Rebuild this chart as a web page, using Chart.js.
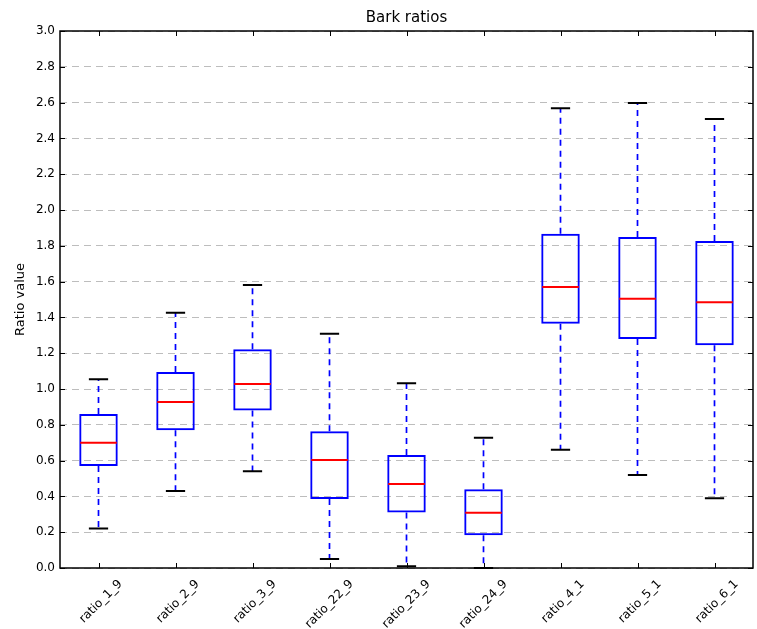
<!DOCTYPE html>
<html>
<head>
<meta charset="utf-8">
<script src="https://cdn.jsdelivr.net/npm/chart.js@4"></script>
<style>
  body { margin: 0; background: #fff; }
</style>
</head>
<body>
<canvas id="chart" width="757" height="629"></canvas>
<script>
// box plot values
const categories = ["ratio_1_9", "ratio_2_9", "ratio_3_9", "ratio_22_9", "ratio_23_9", "ratio_24_9", "ratio_4_1", "ratio_5_1", "ratio_6_1"];
const whiskerLow  = [0.22, 0.43, 0.54, 0.05, 0.01, 0.00, 0.66, 0.52, 0.39];
const q1          = [0.57, 0.77, 0.88, 0.385, 0.31, 0.183, 1.365, 1.28, 1.245];
const median      = [0.70, 0.927, 1.028, 0.603, 0.469, 0.309, 1.57, 1.504, 1.484];
const q3          = [0.86, 1.095, 1.222, 0.764, 0.631, 0.44, 1.868, 1.849, 1.827];
const whiskerHigh = [1.054, 1.426, 1.581, 1.309, 1.032, 0.728, 2.568, 2.598, 2.508];
const yTicks = [0, 0.2, 0.4, 0.6, 0.8, 1.0, 1.2, 1.4, 1.6, 1.8, 2.0, 2.2, 2.4, 2.6, 2.8, 3.0];

const FONT = "'DejaVu Sans', sans-serif";

// whiskers, caps and medians drawn on top of the floating bars
const boxParts = {
    id: "boxParts",
    afterDatasetsDraw(chart) {
        const ctx = chart.ctx;
        const y = chart.scales.y;
        const bars = chart.getDatasetMeta(0).data;
        ctx.save();
        bars.forEach(function (bar, i) {
            const cx = bar.x;
            const half = bar.width / 2;
            const cap = half / 2;

            // whiskers
            ctx.strokeStyle = "#0000ff";
            ctx.lineWidth = 1.7;
            ctx.setLineDash([6, 5]);
            ctx.beginPath();
            ctx.moveTo(cx, y.getPixelForValue(q3[i]));
            ctx.lineTo(cx, y.getPixelForValue(whiskerHigh[i]));
            ctx.moveTo(cx, y.getPixelForValue(q1[i]));
            ctx.lineTo(cx, y.getPixelForValue(whiskerLow[i]));
            ctx.stroke();
            ctx.setLineDash([]);

            // caps
            ctx.strokeStyle = "#000";
            ctx.lineWidth = 2;
            ctx.beginPath();
            [whiskerHigh[i], whiskerLow[i]].forEach(function (v) {
                const py = y.getPixelForValue(v);
                ctx.moveTo(cx - cap, py);
                ctx.lineTo(cx + cap, py);
            });
            ctx.stroke();

            // median
            ctx.strokeStyle = "#ff0000";
            ctx.lineWidth = 2;
            ctx.beginPath();
            const my = y.getPixelForValue(median[i]);
            ctx.moveTo(cx - half + 1, my);
            ctx.lineTo(cx + half - 1, my);
            ctx.stroke();
        });
        ctx.restore();
    }
};

// black frame with inward ticks on every side
const frame = {
    id: "frame",
    afterDraw(chart) {
        const ctx = chart.ctx;
        const a = chart.chartArea;
        const x = chart.scales.x;
        const y = chart.scales.y;
        const len = 5;
        ctx.save();
        ctx.strokeStyle = "#000";
        ctx.lineWidth = 1;
        ctx.beginPath();
        x.ticks.forEach(function (t, i) {
            const px = Math.round(x.getPixelForTick(i)) + 0.5;
            ctx.moveTo(px, a.bottom); ctx.lineTo(px, a.bottom - len);
            ctx.moveTo(px, a.top); ctx.lineTo(px, a.top + len);
        });
        y.ticks.forEach(function (t, i) {
            const py = Math.round(y.getPixelForTick(i)) + 0.5;
            ctx.moveTo(a.left, py); ctx.lineTo(a.left + len, py);
            ctx.moveTo(a.right, py); ctx.lineTo(a.right - len, py);
        });
        ctx.stroke();
        ctx.lineWidth = 1.5;
        ctx.strokeRect(a.left, a.top, a.right - a.left, a.bottom - a.top);
        ctx.restore();
    }
};

const chart = new Chart(document.getElementById("chart").getContext("2d"), {
    type: "bar",
    data: {
        labels: categories,
        datasets: [{
            data: categories.map(function (c, i) { return [q1[i], q3[i]]; }),
            backgroundColor: "rgba(0,0,0,0)",
            borderColor: "#0000ff",
            borderWidth: 2,
            borderSkipped: false,
            barPercentage: 0.5,
            categoryPercentage: 1.0
        }]
    },
    options: {
        responsive: false,
        animation: false,
        events: [],
        layout: { padding: { left: 0, right: 4, top: 0, bottom: 0 } },
        plugins: {
            legend: { display: false },
            tooltip: { enabled: false },
            title: {
                display: true,
                fullSize: false,
                text: "Bark ratios",
                color: "#000",
                font: { family: FONT, size: 15, weight: "normal" },
                padding: { top: 9, bottom: 4 }
            }
        },
        scales: {
            x: {
                grid: { display: false, drawTicks: false },
                border: { display: false },
                ticks: {
                    color: "#000",
                    font: { family: FONT, size: 12 },
                    minRotation: 45,
                    maxRotation: 45,
                    padding: 9,
                    labelOffset: 22
                },
                afterFit: function (scale) { scale.height = 61; }
            },
            y: {
                min: 0,
                max: 3,
                afterBuildTicks: function (scale) {
                    scale.ticks = yTicks.map(function (v) { return { value: v }; });
                },
                grid: { color: "#bdbdbd", lineWidth: 1, drawTicks: false },
                border: { display: false, dash: [7, 5] },
                ticks: {
                    color: "#000",
                    font: { family: FONT, size: 12 },
                    padding: 5,
                    callback: function (v) { return Number(v).toFixed(1); }
                },
                title: {
                    display: true,
                    text: "Ratio value",
                    color: "#000",
                    font: { family: FONT, size: 13 },
                    padding: { top: 13, bottom: 0 }
                },
                afterFit: function (scale) { scale.width = 60; }
            }
        }
    },
    plugins: [boxParts, frame]
});
</script>
</body>
</html>
